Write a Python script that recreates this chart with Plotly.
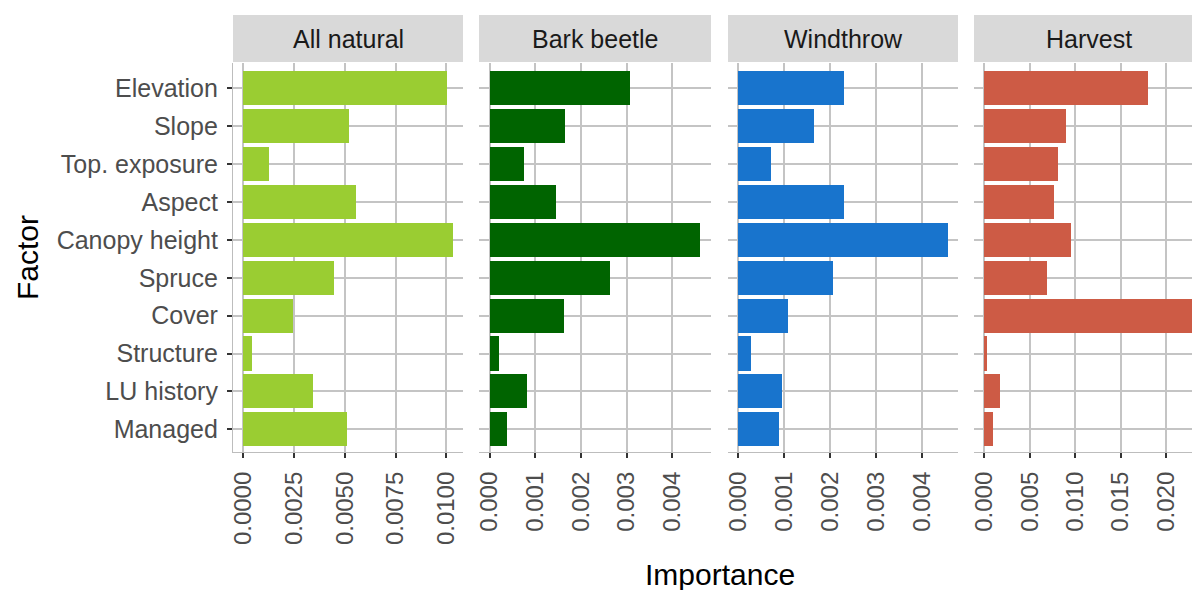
import plotly.graph_objects as go

# factors top to bottom, importance per disturbance agent
factors = ["Elevation", "Slope", "Top. exposure", "Aspect", "Canopy height",
           "Spruce", "Cover", "Structure", "LU history", "Managed"]
panels = ["All natural", "Bark beetle", "Windthrow", "Harvest"]
all_natural = [0.01002, 0.00522, 0.00128, 0.00557, 0.01031, 0.00448, 0.00246, 0.00044, 0.00345, 0.00512]
bark_beetle = [0.00308, 0.00166, 0.00076, 0.00146, 0.00462, 0.00264, 0.00162, 0.00020, 0.00081, 0.00039]
windthrow = [0.00230, 0.00165, 0.00071, 0.00230, 0.00456, 0.00206, 0.00108, 0.00028, 0.00095, 0.00089]
harvest = [0.01806, 0.00903, 0.00815, 0.00771, 0.00958, 0.00694, 0.02303, 0.00033, 0.00176, 0.00099]
x_ticks = [[0, 0.0025, 0.005, 0.0075, 0.01],
           [0, 0.001, 0.002, 0.003, 0.004],
           [0, 0.001, 0.002, 0.003, 0.004],
           [0, 0.005, 0.01, 0.015, 0.02]]
tick_fmt = [".4f", ".3f", ".3f", ".3f"]

series = [all_natural, bark_beetle, windthrow, harvest]
colors = ["#9ACD32", "#006400", "#1874CD", "#CD5B45"]

W, H = 1192, 590
# panel pixel extents (left, right); last one runs off the page edge
px_panels = [(233, 463), (479, 711), (728, 958), (974, 1204)]
panel_top, panel_bot = 63, 452
strip_top = 15

fig = go.Figure()
FONT = "Liberation Sans, Arial, sans-serif"
TICK = "#4D4D4D"
GRID = "#C4C4C4"

for i, (name, vals, col) in enumerate(zip(panels, series, colors)):
    n = "" if i == 0 else str(i + 1)
    fig.add_trace(go.Bar(
        x=vals, y=factors, orientation="h", width=0.9,
        marker=dict(color=col, line=dict(width=0)),
        xaxis="x" + n, yaxis="y" + n, showlegend=False,
    ))
    l, r = px_panels[i]
    m = max(vals)
    lo, hi = -0.05 * m, 1.05 * m
    r_vis = min(r, W)
    hi_vis = lo + (hi - lo) * (r_vis - l) / (r - l)
    fig.update_layout(**{
        "xaxis" + n: dict(
            domain=[l / W, r_vis / W], anchor="y" + n, range=[lo, hi_vis],
            tickvals=x_ticks[i], tickformat=tick_fmt[i], tickangle=-90,
            tickfont=dict(family=FONT, size=24, color=TICK), ticklabelstandoff=4,
            ticks="outside", ticklen=5, tickwidth=1.5, tickcolor="#333333",
            showgrid=True, gridcolor=GRID, gridwidth=1.5, zeroline=False,
            showline=True, linecolor="#BDBDBD", linewidth=1.2,
            automargin=False, fixedrange=True,
        ),
        "yaxis" + n: dict(
            domain=[1 - panel_bot / H, 1 - panel_top / H], anchor="x" + n,
            categoryorder="array", categoryarray=factors,
            range=[len(factors) - 0.4, -0.67],
            showticklabels=(i == 0),
            tickfont=dict(family=FONT, size=25, color=TICK), ticklabelstandoff=4,
            ticks="outside" if i == 0 else "", ticklen=5, tickwidth=1.5, tickcolor="#333333",
            showgrid=True, gridcolor=GRID, gridwidth=1.5, zeroline=False,
            showline=(i == 0), linecolor="#BDBDBD", linewidth=1.2,
            automargin=False, fixedrange=True,
        ),
    })
    # facet strip
    fig.add_shape(type="rect", xref="paper", yref="paper",
                  x0=l / W, x1=r / W, y0=1 - (panel_top - 1) / H, y1=1 - strip_top / H,
                  fillcolor="#D9D9D9", line=dict(width=0), layer="below")
    fig.add_annotation(text=name, xref="paper", yref="paper",
                       x=(l + r) / 2 / W, y=1 - (strip_top + panel_top) / 2 / H,
                       showarrow=False, xanchor="center", yanchor="middle",
                       font=dict(family=FONT, size=25, color="#1A1A1A"))

fig.add_annotation(text="Factor", xref="paper", yref="paper", x=27 / W, y=1 - 258 / H,
                   textangle=-90, showarrow=False, xanchor="center", yanchor="middle",
                   font=dict(family=FONT, size=30, color="black"))
fig.add_annotation(text="Importance", xref="paper", yref="paper", x=720 / W, y=1 - 574 / H,
                   showarrow=False, xanchor="center", yanchor="middle",
                   font=dict(family=FONT, size=30, color="black"))

fig.update_layout(
    width=W, height=H,
    margin=dict(l=0, r=0, t=0, b=0),
    plot_bgcolor="white", paper_bgcolor="white",
    bargap=0,
)

# drop the browser's default page margin so the figure sits at the corner
fig.write_html("out.html", config={"displayModeBar": False},
               post_script="document.body.style.margin='0px';")
